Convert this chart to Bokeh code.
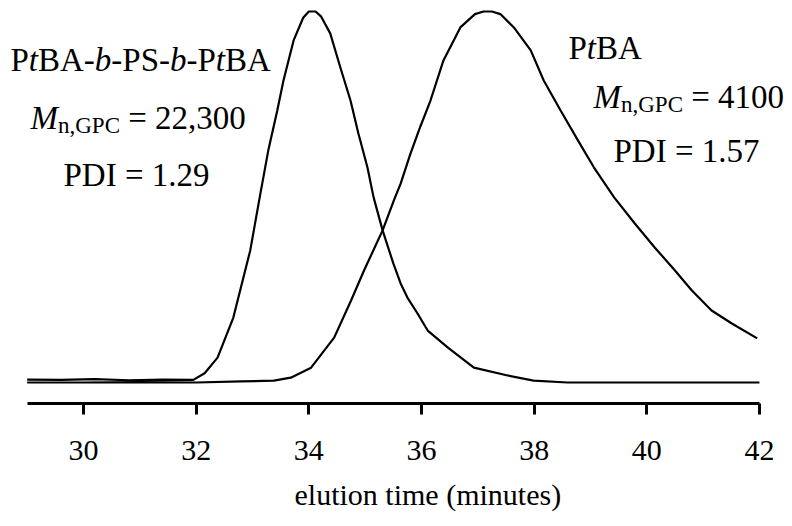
from bokeh.plotting import figure
from bokeh.models import Range1d, Label, FixedTicker, Title
from bokeh.embed import file_html
from bokeh.resources import INLINE

# ---- data (elution time in minutes, normalised detector signal) ----
bcp_time = [29.0, 29.6, 30.2, 30.8, 31.4, 31.95, 32.15, 32.38, 32.66, 32.96, 33.14, 33.28,
            33.44, 33.55, 33.73, 33.9, 34.0, 34.12, 34.22, 34.38, 34.56, 34.74, 34.88,
            35.04, 35.15, 35.31, 35.50, 35.63, 35.75, 35.93, 36.11, 36.47, 36.93, 37.53,
            37.99, 38.59, 39.5, 40.5, 42.0]
bcp_signal = [0.8, 0.7, 0.9, 0.6, 0.8, 0.7, 2.5, 6.7, 17.5, 35.6, 50.9, 62.5,
              73.3, 81.4, 92.2, 98.3, 100, 100, 98.6, 94.1, 84.9, 76.0, 67.1,
              58.0, 49.9, 41.0, 32.1, 26.7, 22.9, 18.6, 14.0, 9.4, 4.0, 1.9,
              0.5, 0.0, 0.0, 0.0, 0.0]

ptba_time = [29.0, 30.0, 31.0, 32.0, 32.8, 33.38, 33.68, 34.04, 34.45, 34.75, 34.98,
             35.31, 35.51, 35.63, 35.80, 35.98, 36.16, 36.39, 36.69, 36.95, 37.10, 37.25,
             37.40, 37.64, 37.94, 38.17, 38.47, 38.78, 39.06, 39.42, 39.78, 40.14,
             40.50, 40.80, 41.15, 41.51, 41.96]
ptba_signal = [0.0, 0.0, 0.1, 0.0, 0.3, 0.5, 1.3, 4.0, 12.1, 22.1, 30.2,
               41.0, 49.1, 53.6, 61.5, 69.0, 76.0, 86.8, 95.7, 99.3, 100, 100,
               99.3, 95.7, 89.5, 81.4, 73.3, 65.2, 58.0, 49.9, 43.0, 36.4,
               30.2, 24.8, 19.4, 15.9, 11.9]

x_ticks = [30, 32, 34, 36, 38, 40, 42]
x_bounds = (29, 42)
x_label = "elution time (minutes)"

FONT = "'Liberation Serif', 'Times New Roman', serif"

p = figure(width=790, height=524, output_backend="svg", toolbar_location=None,
           x_range=Range1d(28.5265, 42.551), y_range=Range1d(-5.66, 102.96),
           y_axis_location=None,
           min_border_left=0, min_border_right=0, min_border_top=0, min_border_bottom=121)
p.outline_line_color = None
p.xgrid.grid_line_color = None
p.ygrid.grid_line_color = None

p.line(bcp_time, bcp_signal, line_color="black", line_width=2.2)
p.line(ptba_time, ptba_signal, line_color="black", line_width=2.2)

ax = p.xaxis[0]
ax.ticker = FixedTicker(ticks=x_ticks)
ax.bounds = x_bounds
ax.axis_line_width = 3
ax.axis_line_color = "black"
ax.major_tick_line_width = 3
ax.major_tick_line_color = "black"
ax.major_tick_out = 11
ax.major_tick_in = 0
ax.minor_tick_out = 0
ax.minor_tick_in = 0
ax.major_label_text_font = FONT
ax.major_label_text_font_size = "30px"
ax.major_label_text_color = "black"
ax.major_label_standoff = 26

p.add_layout(Title(text=x_label, align="left", offset=294, standoff=26,
                   text_font=FONT, text_font_size="30px", text_font_style="normal",
                   text_color="black"), "below")

# ---- text placement helpers (pixel -> data) ----
def dx(px):
    return 30 + (px - 83) / 56.33

def dy(py):
    return (382 - py) / 3.71

W = {'P': .556, 't': .278, 'B': .667, 'A': .722, '-': .333, 'b': .5, 'S': .556,
     'M': .833, 'n': .5, ',': .25, 'G': .722, 'C': .667, ' ': .25, '=': .564,
     'D': .722, 'I': .333, '.': .25}
for d in "0123456789":
    W[d] = .5

def width(s, size):
    return sum(W.get(c, .5) for c in s) * size

def run(x0, base, segs):
    x = x0
    for text, size, style, drop in segs:
        lead = 0
        t = text
        while t.startswith(" "):
            lead += W[' '] * size
            t = t[1:]
        p.add_layout(Label(x=dx(x + lead), y=dy(base + drop), text=t,
                           text_font=FONT, text_font_size=f"{size}px",
                           text_font_style=style, text_color="black",
                           text_baseline="alphabetic", text_align="left"))
        x += width(text, size)

S = 33
SS = 23
run(10, 60, [("P", S, "normal", 0), ("t", S, "italic", 0), ("BA-", S, "normal", 0),
             ("b", S, "italic", 0), ("-PS-", S, "normal", 0), ("b", S, "italic", 0),
             ("-P", S, "normal", 0), ("t", S, "italic", 0), ("BA", S, "normal", 0)])
run(30, 118, [("M", S, "italic", 0), ("n,GPC", SS, "normal", 7), (" = 22,300", S, "normal", 0)])
run(63, 175, [("PDI = 1.29", S, "normal", 0)])

run(568, 48, [("P", S, "normal", 0), ("t", S, "italic", 0), ("BA", S, "normal", 0)])
run(593, 97, [("M", S, "italic", 0), ("n,GPC", SS, "normal", 7), (" = 4100", S, "normal", 0)])
run(613, 151, [("PDI = 1.57", S, "normal", 0)])

open("out.html", "w").write(file_html(p, INLINE))
